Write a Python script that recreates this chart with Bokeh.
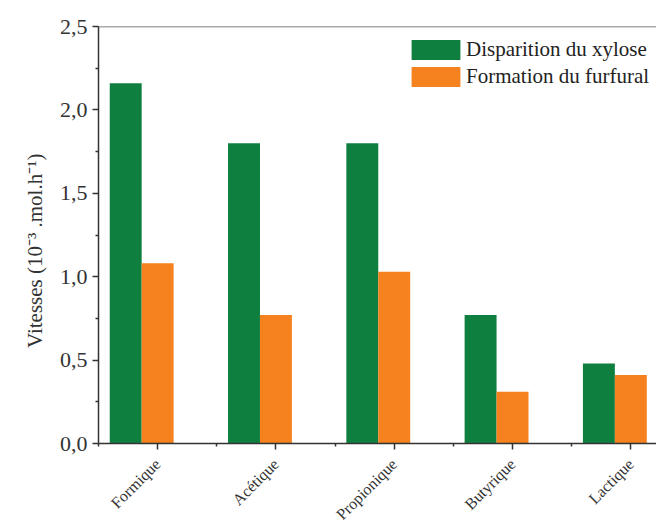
import math
from bokeh.plotting import figure
from bokeh.models import (ColumnDataSource, Range1d, FixedTicker, Legend, LegendItem, Span)
from bokeh.embed import file_html
from bokeh.resources import INLINE

categories = ["Formique", "Acétique", "Propionique", "Butyrique", "Lactique"]
xylose = [2.16, 1.80, 1.80, 0.77, 0.48]
furfural = [1.08, 0.77, 1.03, 0.31, 0.41]
y_ticks = [0.0, 0.5, 1.0, 1.5, 2.0, 2.5]
y_tick_labels = ["0,0", "0,5", "1,0", "1,5", "2,0", "2,5"]
y_title = "Vitesses (10\u207b\u00b3 .mol.h\u207b\u00b9)"

BAR_W = 0.27
idx = list(range(len(categories)))
src = ColumnDataSource(dict(
    xg=[i - BAR_W for i in idx],
    xo=[i * 1.0 for i in idx],
    xylose=xylose,
    furfural=furfural,
))

p = figure(width=656, height=531, output_backend="svg", toolbar_location=None,
           x_range=Range1d(-0.5, 4.217), y_range=Range1d(0, 2.5),
           min_border_left=98, min_border_right=0, min_border_top=26, min_border_bottom=88)
p.outline_line_color = None
p.xgrid.visible = False
p.ygrid.visible = False

rg = p.vbar(x="xg", top="xylose", width=BAR_W, bottom=0, source=src,
            fill_color="#0f7f40", line_color=None)
ro = p.vbar(x="xo", top="furfural", width=BAR_W, bottom=0, source=src,
            fill_color="#f5811f", line_color=None)

serif = "'Liberation Serif'"
axis_color = "#333333"

# x axis
p.xaxis.ticker = FixedTicker(ticks=idx, minor_ticks=[i - 0.5 for i in range(len(categories) + 1)])
p.xaxis.major_label_overrides = {i: c for i, c in zip(idx, categories)}
p.xaxis.major_label_orientation = math.pi / 4
p.xaxis.major_label_text_font = serif
p.xaxis.major_label_text_font_size = "16px"
p.xaxis.major_label_text_color = "#333333"
p.xaxis.major_label_standoff = 12

# y axis
p.yaxis.ticker = FixedTicker(ticks=y_ticks, minor_ticks=[0.25, 0.75, 1.25, 1.75, 2.25])
p.yaxis.major_label_overrides = {t: l for t, l in zip(y_ticks, y_tick_labels)}
p.yaxis.major_label_text_font = serif
p.yaxis.major_label_text_font_size = "22px"
p.yaxis.major_label_text_color = "#333333"
p.yaxis.major_label_standoff = 5
p.yaxis.axis_label = y_title + "\u00a0" * 6
p.yaxis.axis_label_text_font = serif
p.yaxis.axis_label_text_font_size = "21px"
p.yaxis.axis_label_text_font_style = "normal"
p.yaxis.axis_label_text_color = "#333333"
p.yaxis.axis_label_standoff = 10

for ax in (p.xaxis, p.yaxis):
    ax.axis_line_color = axis_color
    ax.axis_line_width = 1.5
    ax.major_tick_line_color = axis_color
    ax.major_tick_line_width = 1.5
    ax.minor_tick_line_color = axis_color
    ax.minor_tick_line_width = 1.5
    ax.major_tick_in = 0
    ax.major_tick_out = 6
    ax.minor_tick_in = 0
    ax.minor_tick_out = 3

p.add_layout(Span(location=2.5, dimension="width", line_color="#555555", line_width=1.5))

legend = Legend(items=[LegendItem(label="Disparition du xylose", renderers=[rg]),
                       LegendItem(label="Formation du furfural", renderers=[ro])],
                location="top_right")
legend.label_text_font = serif
legend.label_text_font_size = "21px"
legend.label_text_color = "#222222"
legend.glyph_width = 61
legend.glyph_height = 25
legend.label_height = 20
legend.label_standoff = 0
legend.spacing = 2
legend.padding = 0
legend.margin = 0
legend.border_line_alpha = 0
legend.background_fill_alpha = 0
legend.location = (307, 354)
p.add_layout(legend)

open("out.html", "w").write(file_html(p, INLINE))
